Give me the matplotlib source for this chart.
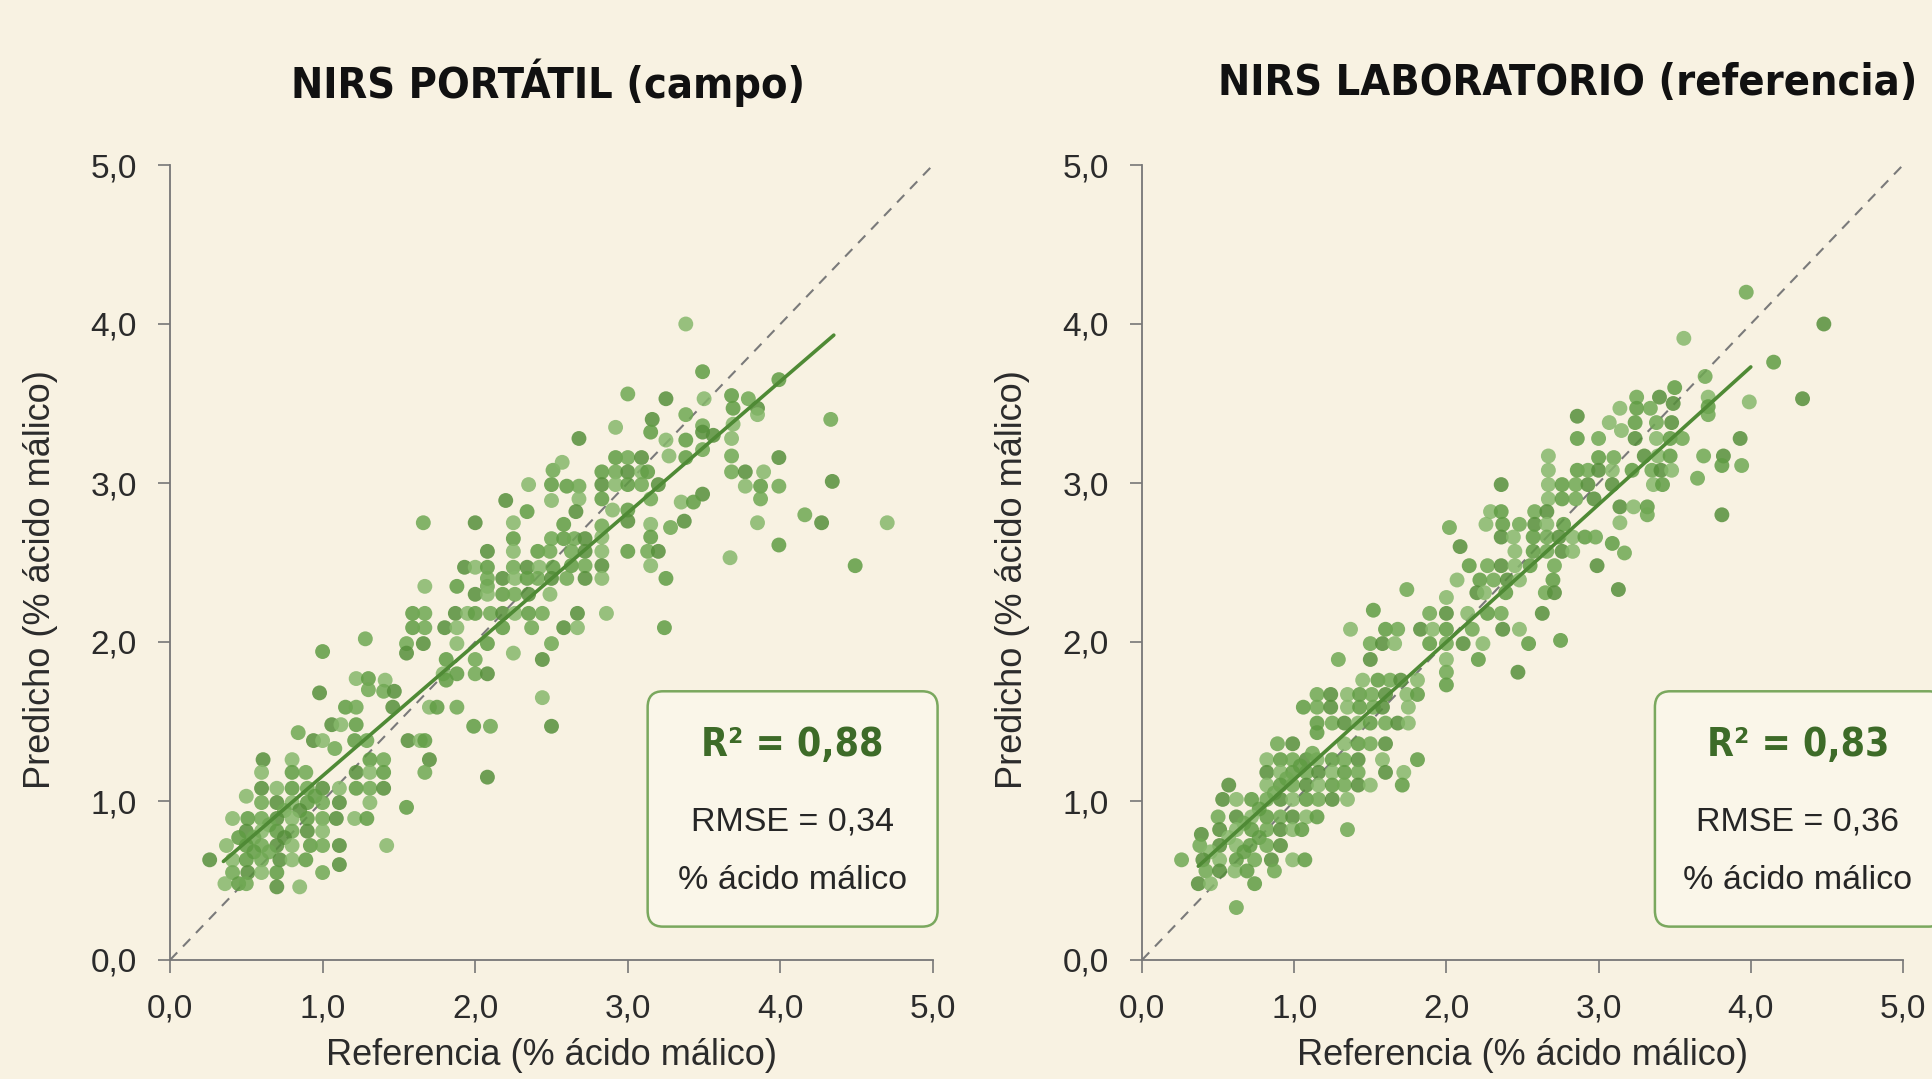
"""Comparación NIRS portátil vs laboratorio: predicho frente a referencia (% ácido málico)."""
import matplotlib.pyplot as plt
import numpy as np
from matplotlib import font_manager
from matplotlib.patches import FancyBboxPatch

plt.rcParams["font.family"] = ["Liberation Sans", "DejaVu Sans"]

# fuente estrecha para títulos si está disponible
_cond = [f for f in font_manager.fontManager.ttflist
         if f.name == "DejaVu Sans" and f.stretch == "condensed" and f.weight in (700, "bold")]
if _cond:
    TITLE_FONT = dict(family="DejaVu Sans", stretch="condensed")
    TITLE_SIZE, R2_SIZE = 31, 28
else:
    TITLE_FONT = dict(family="Liberation Sans")
    TITLE_SIZE, R2_SIZE = 30, 31

BG = "#f8f2e2"
GREEN = ["#5f9c43", "#6fa853", "#568f3b", "#86b86b"]
FIT_COLOR = "#4f8a35"
TEXT_GREEN = "#3d6b28"

TITLES = ["NIRS PORTÁTIL (campo)", "NIRS LABORATORIO (referencia)"]
TICKS = [0, 1, 2, 3, 4, 5]
TICK_LABELS = ["0,0", "1,0", "2,0", "3,0", "4,0", "5,0"]
R2 = ["0,88", "0,83"]
RMSE = ["0,34", "0,36"]

# línea de ajuste (extremos)
fit_portatil = [(0.35, 0.62), (4.35, 3.93)]
fit_lab = [(0.37, 0.59), (4.00, 3.73)]

# NIRS portátil: (referencia, predicho)
portatil_pts = [
    (1.15, 1.59), (1.22, 1.59), (1.46, 1.59), (1.70, 1.59), (1.75, 1.59), (1.88, 1.59),
    (1.06, 1.48), (1.12, 1.48), (1.22, 1.48), (0.84, 1.43),
    (0.94, 1.38), (1.00, 1.38), (1.21, 1.38), (1.29, 1.38), (1.56, 1.38), (1.64, 1.38), (1.67, 1.38),
    (1.08, 1.33),
    (0.61, 1.26), (0.80, 1.26), (1.31, 1.26), (1.40, 1.26), (1.70, 1.26),
    (0.60, 1.18), (0.80, 1.18), (0.89, 1.18), (1.22, 1.18), (1.31, 1.18), (1.40, 1.18), (1.67, 1.18),
    (0.60, 1.08), (0.70, 1.08), (0.80, 1.08), (0.90, 1.08), (1.00, 1.08), (1.11, 1.08), (1.22, 1.08),
    (1.31, 1.08), (1.40, 1.08),
    (0.50, 1.03), (0.95, 1.03),
    (0.60, 0.99), (0.70, 0.99), (0.80, 0.99), (0.90, 0.99), (1.00, 0.99), (1.11, 0.99), (1.31, 0.99),
    (1.55, 0.96), (0.75, 0.94), (0.85, 0.94),
    (0.41, 0.89), (0.51, 0.89), (0.60, 0.89), (0.70, 0.89), (0.80, 0.89), (0.90, 0.89), (1.00, 0.89),
    (1.09, 0.89), (1.21, 0.89), (1.29, 0.89), (0.65, 0.85),
    (0.50, 0.81), (0.60, 0.81), (0.70, 0.81), (0.80, 0.81), (0.90, 0.81), (1.00, 0.81),
    (0.45, 0.77), (0.55, 0.77), (0.75, 0.77),
    (0.37, 0.72), (0.50, 0.72), (0.60, 0.72), (0.70, 0.72), (0.80, 0.72), (0.92, 0.72), (1.00, 0.72),
    (1.11, 0.72), (1.42, 0.72), (0.55, 0.68), (0.65, 0.68),
    (0.26, 0.63), (0.41, 0.63), (0.50, 0.63), (0.60, 0.63), (0.72, 0.63), (0.80, 0.63), (0.89, 0.63),
    (0.41, 0.55), (0.51, 0.55), (0.60, 0.55), (0.70, 0.55), (1.00, 0.55), (1.11, 0.60),
    (0.36, 0.48), (0.45, 0.48), (0.50, 0.48), (0.70, 0.46), (0.85, 0.46),
    (1.00, 1.94), (1.28, 2.02), (0.98, 1.68), (1.22, 1.77), (1.30, 1.77), (1.30, 1.70), (2.08, 1.15),
    (2.35, 2.99), (2.50, 2.99), (2.51, 3.08), (2.20, 2.89), (2.50, 2.89), (2.34, 2.82),
    (1.66, 2.75), (2.00, 2.75), (2.25, 2.75), (2.25, 2.65), (2.50, 2.65),
    (2.08, 2.57), (2.25, 2.57), (2.41, 2.57), (2.49, 2.57),
    (1.93, 2.47), (2.00, 2.47), (2.08, 2.47), (2.25, 2.47), (2.34, 2.47), (2.42, 2.47), (2.51, 2.47),
    (2.08, 2.40), (2.18, 2.40), (2.26, 2.40), (2.34, 2.40), (2.41, 2.40), (2.50, 2.40),
    (1.67, 2.35), (1.88, 2.35), (2.08, 2.35),
    (2.00, 2.30), (2.08, 2.30), (2.18, 2.30), (2.26, 2.30), (2.35, 2.30), (2.49, 2.30),
    (1.59, 2.18), (1.67, 2.18), (1.87, 2.18), (1.95, 2.18), (2.00, 2.18), (2.10, 2.18), (2.18, 2.18),
    (2.26, 2.18), (2.35, 2.18), (2.44, 2.18), (2.67, 2.18), (2.86, 2.18),
    (1.59, 2.09), (1.67, 2.09), (1.80, 2.09), (1.88, 2.09), (2.18, 2.09), (2.37, 2.09), (2.58, 2.09),
    (2.67, 2.09), (3.24, 2.09),
    (1.55, 1.99), (1.66, 1.99), (1.88, 1.99), (2.08, 1.99), (2.50, 1.99),
    (1.55, 1.93), (2.25, 1.93), (1.81, 1.89), (2.00, 1.89), (2.44, 1.89),
    (1.79, 1.80), (1.88, 1.80), (2.00, 1.80), (2.08, 1.80), (1.41, 1.76), (1.81, 1.76),
    (1.40, 1.69), (1.47, 1.69), (2.44, 1.65), (1.99, 1.47), (2.10, 1.47), (2.50, 1.47),
    (3.38, 4.00), (3.49, 3.70), (3.00, 3.56), (3.25, 3.53), (3.50, 3.53), (3.68, 3.55), (3.79, 3.53),
    (3.85, 3.47), (3.85, 3.43), (3.69, 3.47), (3.38, 3.43), (3.16, 3.40), (2.92, 3.35), (3.15, 3.32),
    (3.49, 3.36), (3.49, 3.32), (3.69, 3.37), (3.99, 3.65), (4.33, 3.40),
    (2.68, 3.28), (3.25, 3.27), (3.38, 3.27), (3.49, 3.21), (3.56, 3.30), (3.68, 3.28),
    (2.92, 3.16), (3.00, 3.16), (3.09, 3.16), (3.27, 3.17), (3.38, 3.16), (3.68, 3.17), (3.99, 3.16),
    (2.57, 3.13),
    (2.83, 3.07), (2.92, 3.07), (3.00, 3.07), (3.09, 3.07), (3.13, 3.07), (3.68, 3.07), (3.77, 3.07),
    (3.89, 3.07),
    (2.60, 2.98), (2.68, 2.98), (2.83, 2.99), (2.92, 2.99), (3.00, 2.99), (3.09, 2.99), (3.20, 2.99),
    (3.77, 2.98), (3.87, 2.98), (3.99, 2.98), (4.34, 3.01),
    (2.68, 2.90), (2.83, 2.90), (3.15, 2.90), (3.49, 2.93), (3.35, 2.88), (3.43, 2.88), (3.87, 2.90),
    (2.66, 2.82), (2.90, 2.83), (3.00, 2.83), (4.16, 2.80), (4.27, 2.75), (4.70, 2.75),
    (2.58, 2.74), (2.83, 2.73), (3.00, 2.76), (3.15, 2.74), (3.15, 2.66), (3.28, 2.72), (3.37, 2.76),
    (3.85, 2.75),
    (2.58, 2.65), (2.65, 2.65), (2.72, 2.65), (2.83, 2.66), (3.99, 2.61),
    (2.63, 2.57), (2.72, 2.57), (2.83, 2.57), (3.00, 2.57), (3.13, 2.57), (3.20, 2.57), (3.67, 2.53),
    (2.63, 2.48), (2.72, 2.48), (2.83, 2.48), (3.15, 2.48), (4.49, 2.48),
    (2.60, 2.40), (2.72, 2.40), (2.83, 2.40), (3.25, 2.40),
]

# NIRS laboratorio: (referencia, predicho)
lab_pts = [
    (1.06, 1.59), (1.15, 1.59), (1.24, 1.59), (1.35, 1.59), (1.43, 1.59), (1.52, 1.59), (1.58, 1.59),
    (1.75, 1.59),
    (1.15, 1.49), (1.25, 1.49), (1.33, 1.49), (1.42, 1.49), (1.50, 1.49), (1.60, 1.49), (1.68, 1.49),
    (1.75, 1.49), (1.15, 1.43),
    (0.89, 1.36), (0.99, 1.36), (1.33, 1.36), (1.42, 1.36), (1.50, 1.36), (1.60, 1.36),
    (0.82, 1.26), (0.91, 1.26), (0.99, 1.26), (1.08, 1.26), (1.15, 1.26), (1.25, 1.26), (1.33, 1.26),
    (1.42, 1.26), (1.58, 1.26), (1.81, 1.26), (1.12, 1.30),
    (0.82, 1.18), (0.91, 1.18), (0.99, 1.18), (1.08, 1.18), (1.16, 1.18), (1.25, 1.18), (1.33, 1.18),
    (1.42, 1.18), (1.60, 1.18), (1.72, 1.18), (1.04, 1.22), (0.95, 1.14),
    (0.57, 1.10), (0.82, 1.10), (0.91, 1.10), (0.99, 1.10), (1.08, 1.10), (1.16, 1.10), (1.25, 1.10),
    (1.33, 1.10), (1.42, 1.10), (1.50, 1.10), (1.71, 1.10), (0.87, 1.05),
    (0.53, 1.01), (0.62, 1.01), (0.72, 1.01), (0.82, 1.01), (0.91, 1.01), (0.99, 1.01), (1.08, 1.01),
    (1.16, 1.01), (1.25, 1.01), (1.35, 1.01), (0.77, 0.95),
    (0.50, 0.90), (0.62, 0.90), (0.72, 0.90), (0.82, 0.90), (0.91, 0.90), (0.99, 0.90), (1.08, 0.90),
    (1.15, 0.90), (0.67, 0.86),
    (0.51, 0.82), (0.62, 0.82), (0.72, 0.82), (0.82, 0.82), (0.91, 0.82), (0.99, 0.82), (1.05, 0.82),
    (1.35, 0.82), (0.39, 0.79), (0.57, 0.77), (0.77, 0.77),
    (0.38, 0.72), (0.51, 0.72), (0.62, 0.72), (0.71, 0.72), (0.82, 0.72), (0.91, 0.72),
    (0.45, 0.68), (0.67, 0.68),
    (0.26, 0.63), (0.40, 0.63), (0.51, 0.63), (0.62, 0.63), (0.74, 0.63), (0.85, 0.63), (0.99, 0.63),
    (1.07, 0.63),
    (0.42, 0.56), (0.51, 0.56), (0.61, 0.56), (0.69, 0.56), (0.87, 0.56),
    (0.37, 0.48), (0.45, 0.48), (0.74, 0.48), (0.62, 0.33),
    (2.36, 2.99), (2.67, 2.99), (2.76, 2.99), (2.85, 2.99), (2.93, 2.99),
    (2.67, 2.90), (2.76, 2.90), (2.85, 2.90), (2.97, 2.90),
    (2.29, 2.82), (2.36, 2.82), (2.58, 2.82), (2.66, 2.82),
    (2.26, 2.74), (2.37, 2.74), (2.48, 2.74), (2.58, 2.74), (2.66, 2.74), (2.77, 2.74), (2.02, 2.72),
    (2.36, 2.66), (2.44, 2.66), (2.57, 2.66), (2.66, 2.66), (2.74, 2.66), (2.83, 2.66), (2.91, 2.66),
    (2.98, 2.66), (2.09, 2.60),
    (2.45, 2.57), (2.57, 2.57), (2.66, 2.57), (2.76, 2.57), (2.83, 2.57),
    (2.15, 2.48), (2.27, 2.48), (2.36, 2.48), (2.45, 2.48), (2.55, 2.48), (2.71, 2.48), (2.99, 2.48),
    (2.07, 2.39), (2.22, 2.39), (2.31, 2.39), (2.40, 2.39), (2.48, 2.39), (2.70, 2.39),
    (1.74, 2.33), (2.20, 2.31), (2.25, 2.31), (2.39, 2.31), (2.65, 2.31), (2.71, 2.31), (2.00, 2.28),
    (1.52, 2.20), (1.89, 2.18), (2.00, 2.18), (2.14, 2.18), (2.27, 2.18), (2.36, 2.18), (2.63, 2.18),
    (1.37, 2.08), (1.60, 2.08), (1.68, 2.08), (1.83, 2.08), (1.91, 2.08), (2.00, 2.08), (2.17, 2.08),
    (2.37, 2.08), (2.48, 2.08), (2.75, 2.01),
    (1.50, 1.99), (1.58, 1.99), (1.66, 1.99), (1.89, 1.99), (2.00, 1.99), (2.11, 1.99), (2.24, 1.99),
    (2.54, 1.99),
    (1.29, 1.89), (1.50, 1.89), (2.00, 1.89), (2.21, 1.89), (2.00, 1.81), (2.47, 1.81),
    (1.45, 1.76), (1.55, 1.76), (1.63, 1.76), (1.70, 1.76), (1.81, 1.76), (2.00, 1.73),
    (1.15, 1.67), (1.24, 1.67), (1.35, 1.67), (1.43, 1.67), (1.51, 1.67), (1.60, 1.67), (1.74, 1.67),
    (1.81, 1.67),
    (3.97, 4.20), (4.48, 4.00), (3.56, 3.91), (4.15, 3.76), (3.70, 3.67), (4.34, 3.53), (3.99, 3.51),
    (3.50, 3.60), (3.25, 3.54), (3.40, 3.54), (3.72, 3.54), (3.72, 3.48), (3.72, 3.43), (3.49, 3.50),
    (3.14, 3.47), (3.25, 3.47), (3.34, 3.47), (2.86, 3.42),
    (3.07, 3.38), (3.24, 3.38), (3.38, 3.38), (3.48, 3.38), (3.15, 3.33),
    (2.86, 3.28), (3.00, 3.28), (3.24, 3.28), (3.38, 3.28), (3.47, 3.28), (3.55, 3.28), (3.93, 3.28),
    (2.67, 3.17), (3.00, 3.16), (3.10, 3.16), (3.30, 3.17), (3.39, 3.17), (3.47, 3.17), (3.69, 3.17),
    (3.82, 3.17),
    (2.67, 3.08), (2.86, 3.08), (2.93, 3.08), (3.00, 3.08), (3.09, 3.08), (3.22, 3.08), (3.35, 3.08),
    (3.41, 3.08), (3.48, 3.08), (3.81, 3.11), (3.94, 3.11),
    (3.09, 2.99), (3.36, 2.99), (3.42, 2.99), (3.65, 3.03),
    (3.14, 2.85), (3.23, 2.85), (3.32, 2.85), (3.32, 2.80), (3.81, 2.80),
    (3.14, 2.75), (3.09, 2.62), (3.17, 2.56), (3.13, 2.33),
]

# posiciones en píxeles de la figura (1932 x 1079)
W, H = 1932, 1079
AX_RECTS = [(170, 165, 933, 960), (1142, 165, 1903, 960)]


def draw_panel(ax, pts, fit, r2, rmse, box_x0, text_x):
    pts = np.array(pts)
    colors = [GREEN[i % len(GREEN)] for i in range(len(pts))]
    ax.plot([0, 5], [0, 5], ls=(0, (5, 4)), color="#7a7a7a", lw=1.5, zorder=2)
    ax.scatter(pts[:, 0], pts[:, 1], s=115, c=colors, alpha=0.85, edgecolors="none", zorder=3)
    fx, fy = zip(*fit)
    ax.plot(fx, fy, color=FIT_COLOR, lw=2.6, zorder=4, solid_capstyle="round")

    ax.set_xlim(0, 5)
    ax.set_ylim(0, 5)
    ax.set_facecolor("none")
    for side in ["top", "right"]:
        ax.spines[side].set_visible(False)
    for side in ["left", "bottom"]:
        ax.spines[side].set_color("#777777")
        ax.spines[side].set_linewidth(1.3)
    ax.set_xticks(TICKS)
    ax.set_yticks(TICKS)
    ax.set_xticklabels(TICK_LABELS)
    ax.set_yticklabels(TICK_LABELS)
    ax.tick_params(length=9, width=1.2, color="#777777", labelsize=24,
                   labelcolor="#2b2b2b", pad=15)

    box = FancyBboxPatch((box_x0, 0.21), 1.9, 1.48,
                         boxstyle="round,pad=0,rounding_size=0.1",
                         fc="#faf6e9", ec="#7aa85e", lw=1.8, zorder=5, clip_on=False)
    ax.add_patch(box)
    ax.text(text_x, 1.35, f"R² = {r2}", ha="center", va="center", fontsize=R2_SIZE,
            fontweight="bold", color=TEXT_GREEN, zorder=6, clip_on=False, **TITLE_FONT)
    ax.text(text_x, 0.87, f"RMSE = {rmse}", ha="center", va="center", fontsize=24.5,
            color="#262626", zorder=6, clip_on=False)
    ax.text(text_x, 0.50, "% ácido málico", ha="center", va="center", fontsize=24.5,
            color="#262626", zorder=6, clip_on=False)


fig = plt.figure(figsize=(W / 100, H / 100), dpi=100, facecolor=BG)

panels = [
    (portatil_pts, fit_portatil, 3.13, 4.08),
    (lab_pts, fit_lab, 3.37, 4.31),
]
title_x = [548, 1568]
for i, (pts, fit, box_x0, text_x) in enumerate(panels):
    x0, y0, x1, y1 = AX_RECTS[i]
    ax = fig.add_axes([x0 / W, 1 - y1 / H, (x1 - x0) / W, (y1 - y0) / H])
    draw_panel(ax, pts, fit, R2[i], RMSE[i], box_x0, text_x)
    fig.text(title_x[i] / W, 1 - 83 / H, TITLES[i], ha="center", va="center",
             fontsize=TITLE_SIZE, fontweight="bold", color="#111111", **TITLE_FONT)
    fig.text((x0 - 129) / W, 1 - 580 / H, "Predicho (% ácido málico)", rotation=90,
             ha="center", va="center", fontsize=26, color="#2b2b2b")
    fig.text((x0 + x1) / 2 / W, 1 - 1038 / H, "Referencia (% ácido málico)",
             ha="center", va="top", fontsize=26, color="#2b2b2b")

fig.savefig("out.png", dpi=100, facecolor=BG)
